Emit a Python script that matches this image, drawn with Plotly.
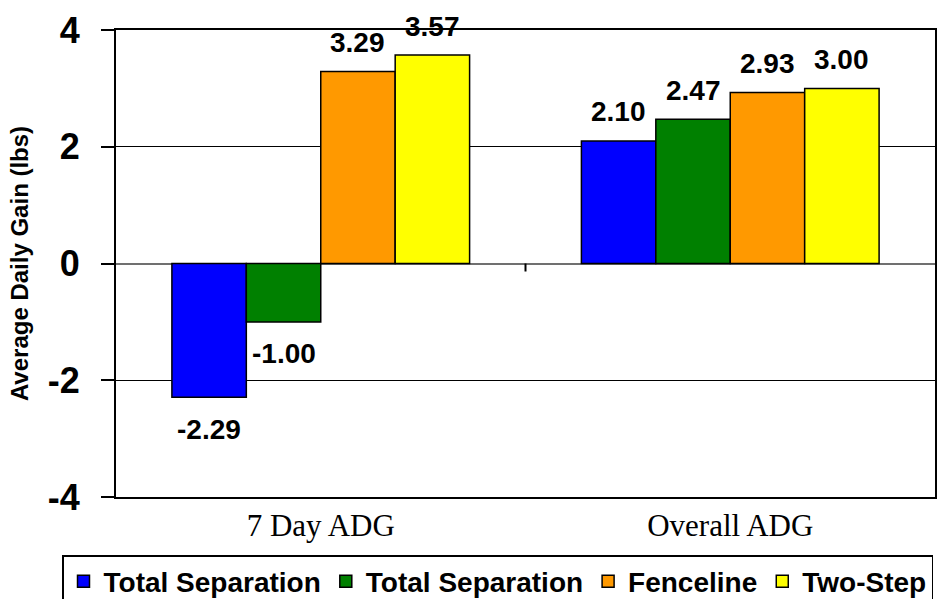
import plotly.graph_objects as go

categories = ["7 Day ADG", "Overall ADG"]
series_names = ["Total Separation", "Total Separation", "Fenceline", "Two-Step"]
series_values = [
    [-2.29, 2.10],
    [-1.00, 2.47],
    [3.29, 2.93],
    [3.57, 3.00],
]
series_colors = ["#0000FF", "#008000", "#FF9900", "#FFFF00"]
y_ticks = [-4, -2, 0, 2, 4]

W, H = 941, 599
ML, MR, MT, MB = 116, 6, 30, 102
plot_w = W - ML - MR
bargap = 0.273
bar_px = plot_w / len(categories) * (1 - bargap) / len(series_names)

fig = go.Figure()
for i, (name, vals, col) in enumerate(zip(series_names, series_values, series_colors)):
    fig.add_trace(go.Bar(
        x=categories, y=vals, name=name,
        marker=dict(color=col, line=dict(color="black", width=1.5)),
    ))

annotations = []
for i, vals in enumerate(series_values):
    for cat, v in zip(categories, vals):
        annotations.append(dict(
            x=cat, y=v, xref="x", yref="y", text=f"{v:.2f}", showarrow=False,
            xshift=(i - (len(series_names) - 1) / 2) * bar_px,
            yshift=29 if v >= 0 else -32,
            font=dict(family="Liberation Sans", size=28, color="black", weight="bold"),
        ))

fig.add_shape(type="line", xref="x", yref="y", x0=0.5, x1=0.5,
              ysizemode="pixel", yanchor=0, y0=0, y1=-8,
              line=dict(color="black", width=2))

fig.update_layout(
    width=W, height=H,
    margin=dict(l=ML, r=MR, t=MT, b=MB, autoexpand=False),
    paper_bgcolor="white", plot_bgcolor="white",
    barmode="group", bargap=bargap, bargroupgap=0,
    annotations=annotations,
    legend=dict(
        orientation="h", x=(62 - ML) / plot_w, xanchor="left",
        y=-(555 - (H - MB)) / (H - MT - MB), yanchor="top",
        font=dict(family="Liberation Sans", size=28, color="black", weight="bold"),
        bordercolor="black", borderwidth=1.5, bgcolor="white",
        itemwidth=30, tracegroupgap=0,
    ),
    xaxis=dict(
        automargin=False,
        showline=True, mirror=True, linecolor="black", linewidth=2,
        ticks="", showgrid=False,
        tickfont=dict(family="Liberation Serif", size=31, color="black"),
        ticklabelstandoff=0,
    ),
    yaxis=dict(
        automargin=False,
        range=[-4, 4], tickvals=y_ticks, ticktext=[str(t) for t in y_ticks],
        showline=True, mirror=True, linecolor="black", linewidth=2,
        ticks="outside", ticklen=13, tickwidth=1.5, tickcolor="black",
        showgrid=True, gridcolor="black", gridwidth=1,
        zeroline=True, zerolinecolor="#707070", zerolinewidth=2,
        tickfont=dict(family="Liberation Sans", size=36, color="black", weight="bold"),
        ticklabelstandoff=14,
        title=dict(text="Average Daily Gain (lbs)", standoff=12,
                   font=dict(family="Liberation Sans", size=24, color="black", weight="bold")),
    ),
    showlegend=True,
)

fig.write_html("out.html", config={"displayModeBar": False},
               post_script="document.body.style.margin='0';document.body.style.overflow='hidden';")
